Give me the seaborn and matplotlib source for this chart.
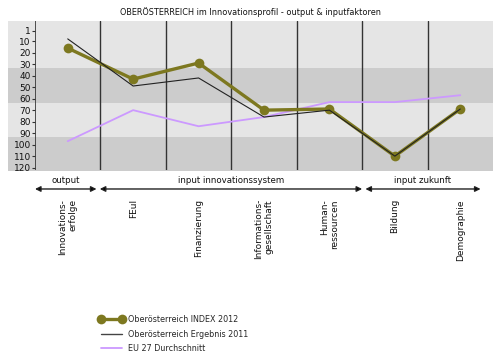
import matplotlib
matplotlib.use("Agg")
import matplotlib.pyplot as plt
import matplotlib.transforms as mtransforms
from matplotlib.lines import Line2D
import seaborn as sns
import pandas as pd

categories = ["Innovations-\nerfolge", "FEuI", "Finanzierung", "Informations-\ngesellschaft",
              "Human-\nressourcen", "Bildung", "Demographie"]
index_2012 = [16, 43, 29, 70, 69, 110, 69]
ergebnis_2011 = [8, 49, 42, 76, 70, 110, 69]
eu27 = [97, 70, 84, 76, 63, 63, 57]
series_names = ["Oberösterreich INDEX 2012", "Oberösterreich Ergebnis 2011", "EU 27 Durchschnitt"]
ytick_values = [1, 10, 20, 30, 40, 50, 60, 70, 80, 90, 100, 110, 120]
groups = ["output", "input innovationssystem", "input zukunft"]
title = "OBERÖSTERREICH im Innovationsprofil - output & inputfaktoren"

sns.set_theme(style="white")
plt.rcParams["font.family"] = ["DejaVu Sans"]

df = pd.DataFrame({"pos": list(range(len(categories))) * 3,
                   "value": index_2012 + ergebnis_2011 + eu27,
                   "series": [series_names[0]] * 7 + [series_names[1]] * 7 + [series_names[2]] * 7})

fig = plt.figure(figsize=(5.0, 3.57), dpi=100)
ax = fig.add_axes([0.07, 0.524, 0.916, 0.417])

olive = "#7d7820"
purple = "#cc99ff"
dark = "#222222"

# background bands (extend behind tick labels)
bands = [(-7.5, 33.5, "#e5e5e5"), (33.5, 63.5, "#cccccc"), (63.5, 93.5, "#e5e5e5"), (93.5, 122.5, "#cccccc")]
for y0, y1, c in bands:
    ax.axhspan(y0, y1, xmin=-0.059, xmax=1.0, color=c, zorder=0, clip_on=False, lw=0)

for xv in [0.5, 1.5, 2.5, 3.5, 4.5, 5.5]:
    ax.axvline(xv, color="#333333", lw=1.0, zorder=1)
ax.axvline(-0.5, color="#333333", lw=1.2, zorder=1)

sns.lineplot(data=df[df.series == series_names[2]], x="pos", y="value", ax=ax,
             color=purple, lw=1.3, zorder=2, legend=False)
sns.lineplot(data=df[df.series == series_names[0]], x="pos", y="value", ax=ax,
             color=olive, lw=2.4, marker="o", markersize=7, markeredgewidth=0,
             zorder=3, legend=False)
sns.lineplot(data=df[df.series == series_names[1]], x="pos", y="value", ax=ax,
             color=dark, lw=0.8, zorder=4, legend=False)

ax.set_xlim(-0.5, 6.5)
ax.set_ylim(122, -7.5)
ax.set_yticks(ytick_values)
ax.set_yticklabels([str(v) for v in ytick_values], fontsize=6.5, color="#111111")
ax.tick_params(axis="y", length=2, width=0.8, pad=1, left=True, color="#333333")
ax.set_xticks(range(len(categories)))
ax.set_xticklabels(categories, rotation=90, fontsize=6.5, va="top", ha="center",
                   multialignment="right", color="#111111")
ax.tick_params(axis="x", length=0, pad=21)
ax.set_xlabel("")
ax.set_ylabel("")
for s in ax.spines.values():
    s.set_visible(False)

# group brackets
trans = mtransforms.blended_transform_factory(ax.transData, ax.transAxes)
spans = [(-0.5, 0.44), (0.49, 4.5), (4.55, 6.31)]
for (x0, x1), g in zip(spans, groups):
    ax.annotate("", xy=(x0, -0.128), xytext=(x1, -0.128), xycoords=trans, textcoords=trans,
                arrowprops=dict(arrowstyle="<|-|>", color="#555555", lw=1.0,
                                mutation_scale=8, shrinkA=0, shrinkB=0,
                                fc="black", ec="#222222"), annotation_clip=False)
    ax.text((x0 + x1) / 2, -0.068, g, transform=trans, ha="center", va="center",
            fontsize=6.2, color="#111111", clip_on=False)

fig.text(0.5, 0.966, title, ha="center", va="center", fontsize=5.9, color="#111111")

handles = [Line2D([], [], color=olive, lw=2.4, marker="o", markersize=7, markeredgewidth=0),
           Line2D([], [], color="#444444", lw=1.0),
           Line2D([], [], color=purple, lw=1.3)]
fig.legend(handles, series_names, loc="upper left", bbox_to_anchor=(0.198, 0.118),
           frameon=False, fontsize=5.8, handlelength=3.1, handletextpad=0.45,
           labelspacing=0.7, borderpad=0, borderaxespad=0, numpoints=2)

fig.savefig("out.png", dpi=100)
